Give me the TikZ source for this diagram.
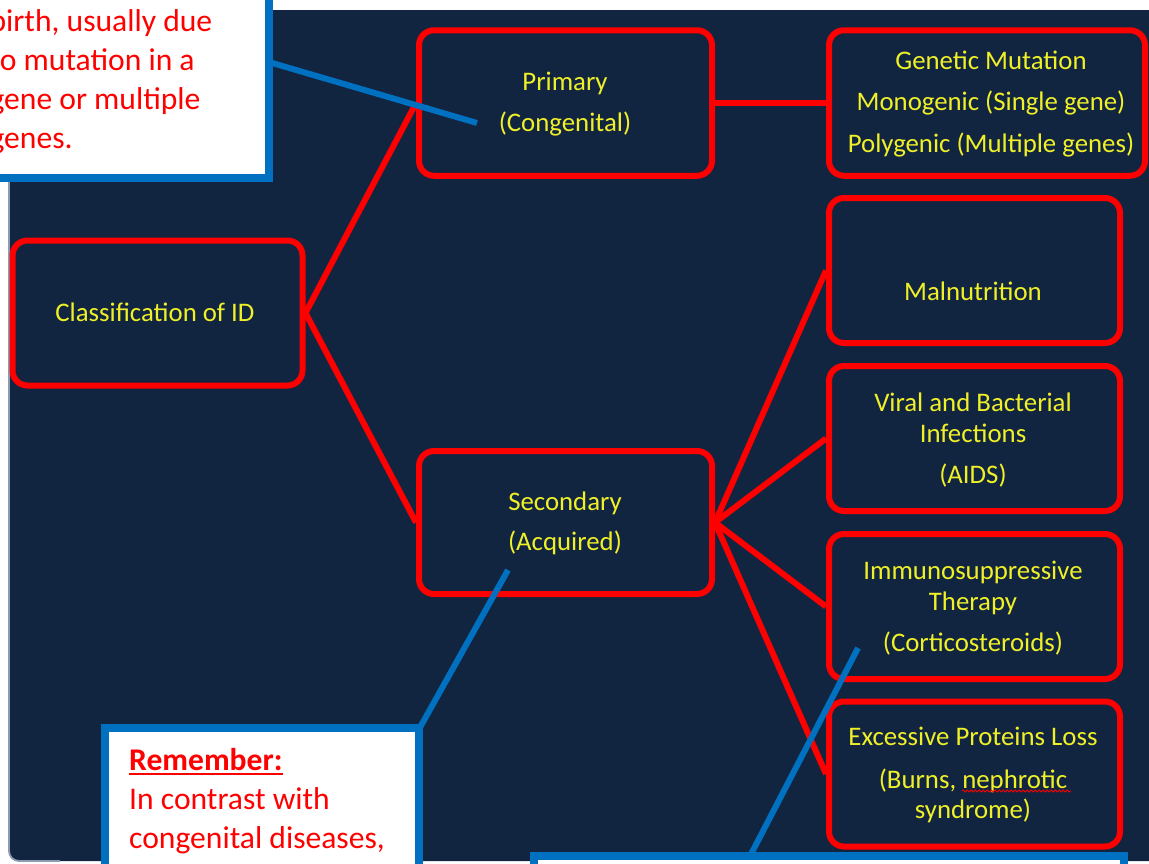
\documentclass[tikz,border=0pt]{standalone}
\usepackage{fontspec}
\setmainfont{Carlito}
\usetikzlibrary{decorations.pathmorphing}
\definecolor{navy}{RGB}{18,37,64}
\definecolor{cblue}{RGB}{0,112,192}
\definecolor{ytext}{RGB}{240,240,40}
\definecolor{edgegrey}{RGB}{140,155,175}
\newcommand\myul[1]{\setbox0\hbox{#1}\rlap{\rule[-5pt]{\wd0}{2.4pt}}\box0}
\pgfdeclarelayer{back}
\pgfdeclarelayer{lines}
\pgfdeclarelayer{front}
\pgfsetlayers{back,lines,main,front}
\begin{document}
\begin{tikzpicture}[x=1pt,y=-1pt,
  redbox/.style={draw=red, line width=6pt, rounded corners=15pt, fill=navy, inner sep=0pt, minimum height=145pt},
  boxtext/.style={text=ytext, align=center, inner sep=0pt, font=\fontsize{26.8}{30.5}\selectfont},
  conn/.style={draw=red, line width=6pt},
  callout/.style={draw=cblue, line width=8pt, fill=white, inner sep=0pt},
  pointer/.style={draw=cblue, line width=6pt},
  calltext/.style={text=red, align=left, inner sep=0pt, font=\fontsize{31.6}{39}\selectfont, anchor=base west},
]
\useasboundingbox (0,0) rectangle (1149,863);
\begin{pgfonlayer}{back}
\fill[white] (0,0) rectangle (1149,863);
\fill[navy, rounded corners=10pt] (9,10) rectangle (1180,861);
\draw[edgegrey, line width=1.8pt, rounded corners=10pt] (9,10) -- (9,861) -- (60,861);
\end{pgfonlayer}

% boxes
\node[redbox, minimum width=290pt] (cls) at (157.5,313) {};
\node[redbox, minimum width=293pt, minimum height=145.5pt] (pri) at (565.5,103) {};
\node[redbox, minimum width=293pt, minimum height=143pt] (sec) at (565.5,522.5) {};
\node[redbox, minimum width=316pt, minimum height=145.5pt] (gen) at (987,103) {};
\node[redbox, minimum width=291pt] (mal) at (974.5,270.5) {};
\node[redbox, minimum width=291pt] (vir) at (974.5,438.5) {};
\node[redbox, minimum width=291pt] (imm) at (974.5,606.5) {};
\node[redbox, minimum width=291pt] (exc) at (974.5,774) {};

% box texts
\node[boxtext] (clst) at (155,312) {Classification of ID};
\node[boxtext] (prit) at (565,104) {Primary\\[10.5pt](Congenital)};
\node[boxtext] (sect) at (565,523.5) {Secondary\\[9.5pt](Acquired)};
\node[boxtext] (gent) at (991,104) {Genetic Mutation\\[11pt]Monogenic (Single gene)\\[11pt]Polygenic (Multiple genes)};
\node[boxtext] (malt) at (973,291) {Malnutrition};
\node[boxtext] (virt) at (973,440) {Viral and Bacterial\\Infections\\[10.5pt](AIDS)};
\node[boxtext] (immt) at (973,608) {Immunosuppressive\\Therapy\\[10.5pt](Corticosteroids)};
\node[boxtext] (exct) at (973,775) {Excessive Proteins Loss\\[12pt](Burns, nephrotic\\syndrome)};
\draw[red, line width=0.8pt, decorate, decoration={snake, amplitude=1pt, segment length=4pt}] (962,791) -- (1071,791);

% connectors
\begin{pgfonlayer}{lines}
\draw[conn] (cls.east) -- (pri.west);
\draw[conn] (cls.east) -- (sec.west);
\draw[conn] (pri.east) -- (gen.west);
\foreach \t in {mal,vir,imm,exc} \draw[conn] (sec.east) -- (\t.west);
\end{pgfonlayer}

% callouts
\begin{pgfonlayer}{front}
\coordinate (tlp) at (262,60);
\coordinate (tlq) at (477,123);
\coordinate (blp) at (508,570);
\coordinate (blq) at (418,731);
\coordinate (brp) at (858,648);
\coordinate (brq) at (748,860);
\draw[pointer] (tlp) -- (tlq);
\draw[pointer] (blp) -- (blq);
\draw[pointer] (brp) -- (brq);
\node[callout, minimum width=298.5pt, minimum height=208pt] (tlbox) at (119.25,74) {};
\node[callout, minimum width=314pt, minimum height=172.5pt] (blbox) at (262,813.75) {};
\node[callout, minimum width=590pt, minimum height=64pt] (brbox) at (829,888) {};
\node[calltext] (tltext) at (-10.6,148) {birth, usually due\\to mutation in a\\gene or multiple\\genes.};
\node[calltext] (bltext) at (129,848) {\textbf{\myul{Remember:}}\\In contrast with\\congenital diseases,};
\end{pgfonlayer}
\end{tikzpicture}
\end{document}
